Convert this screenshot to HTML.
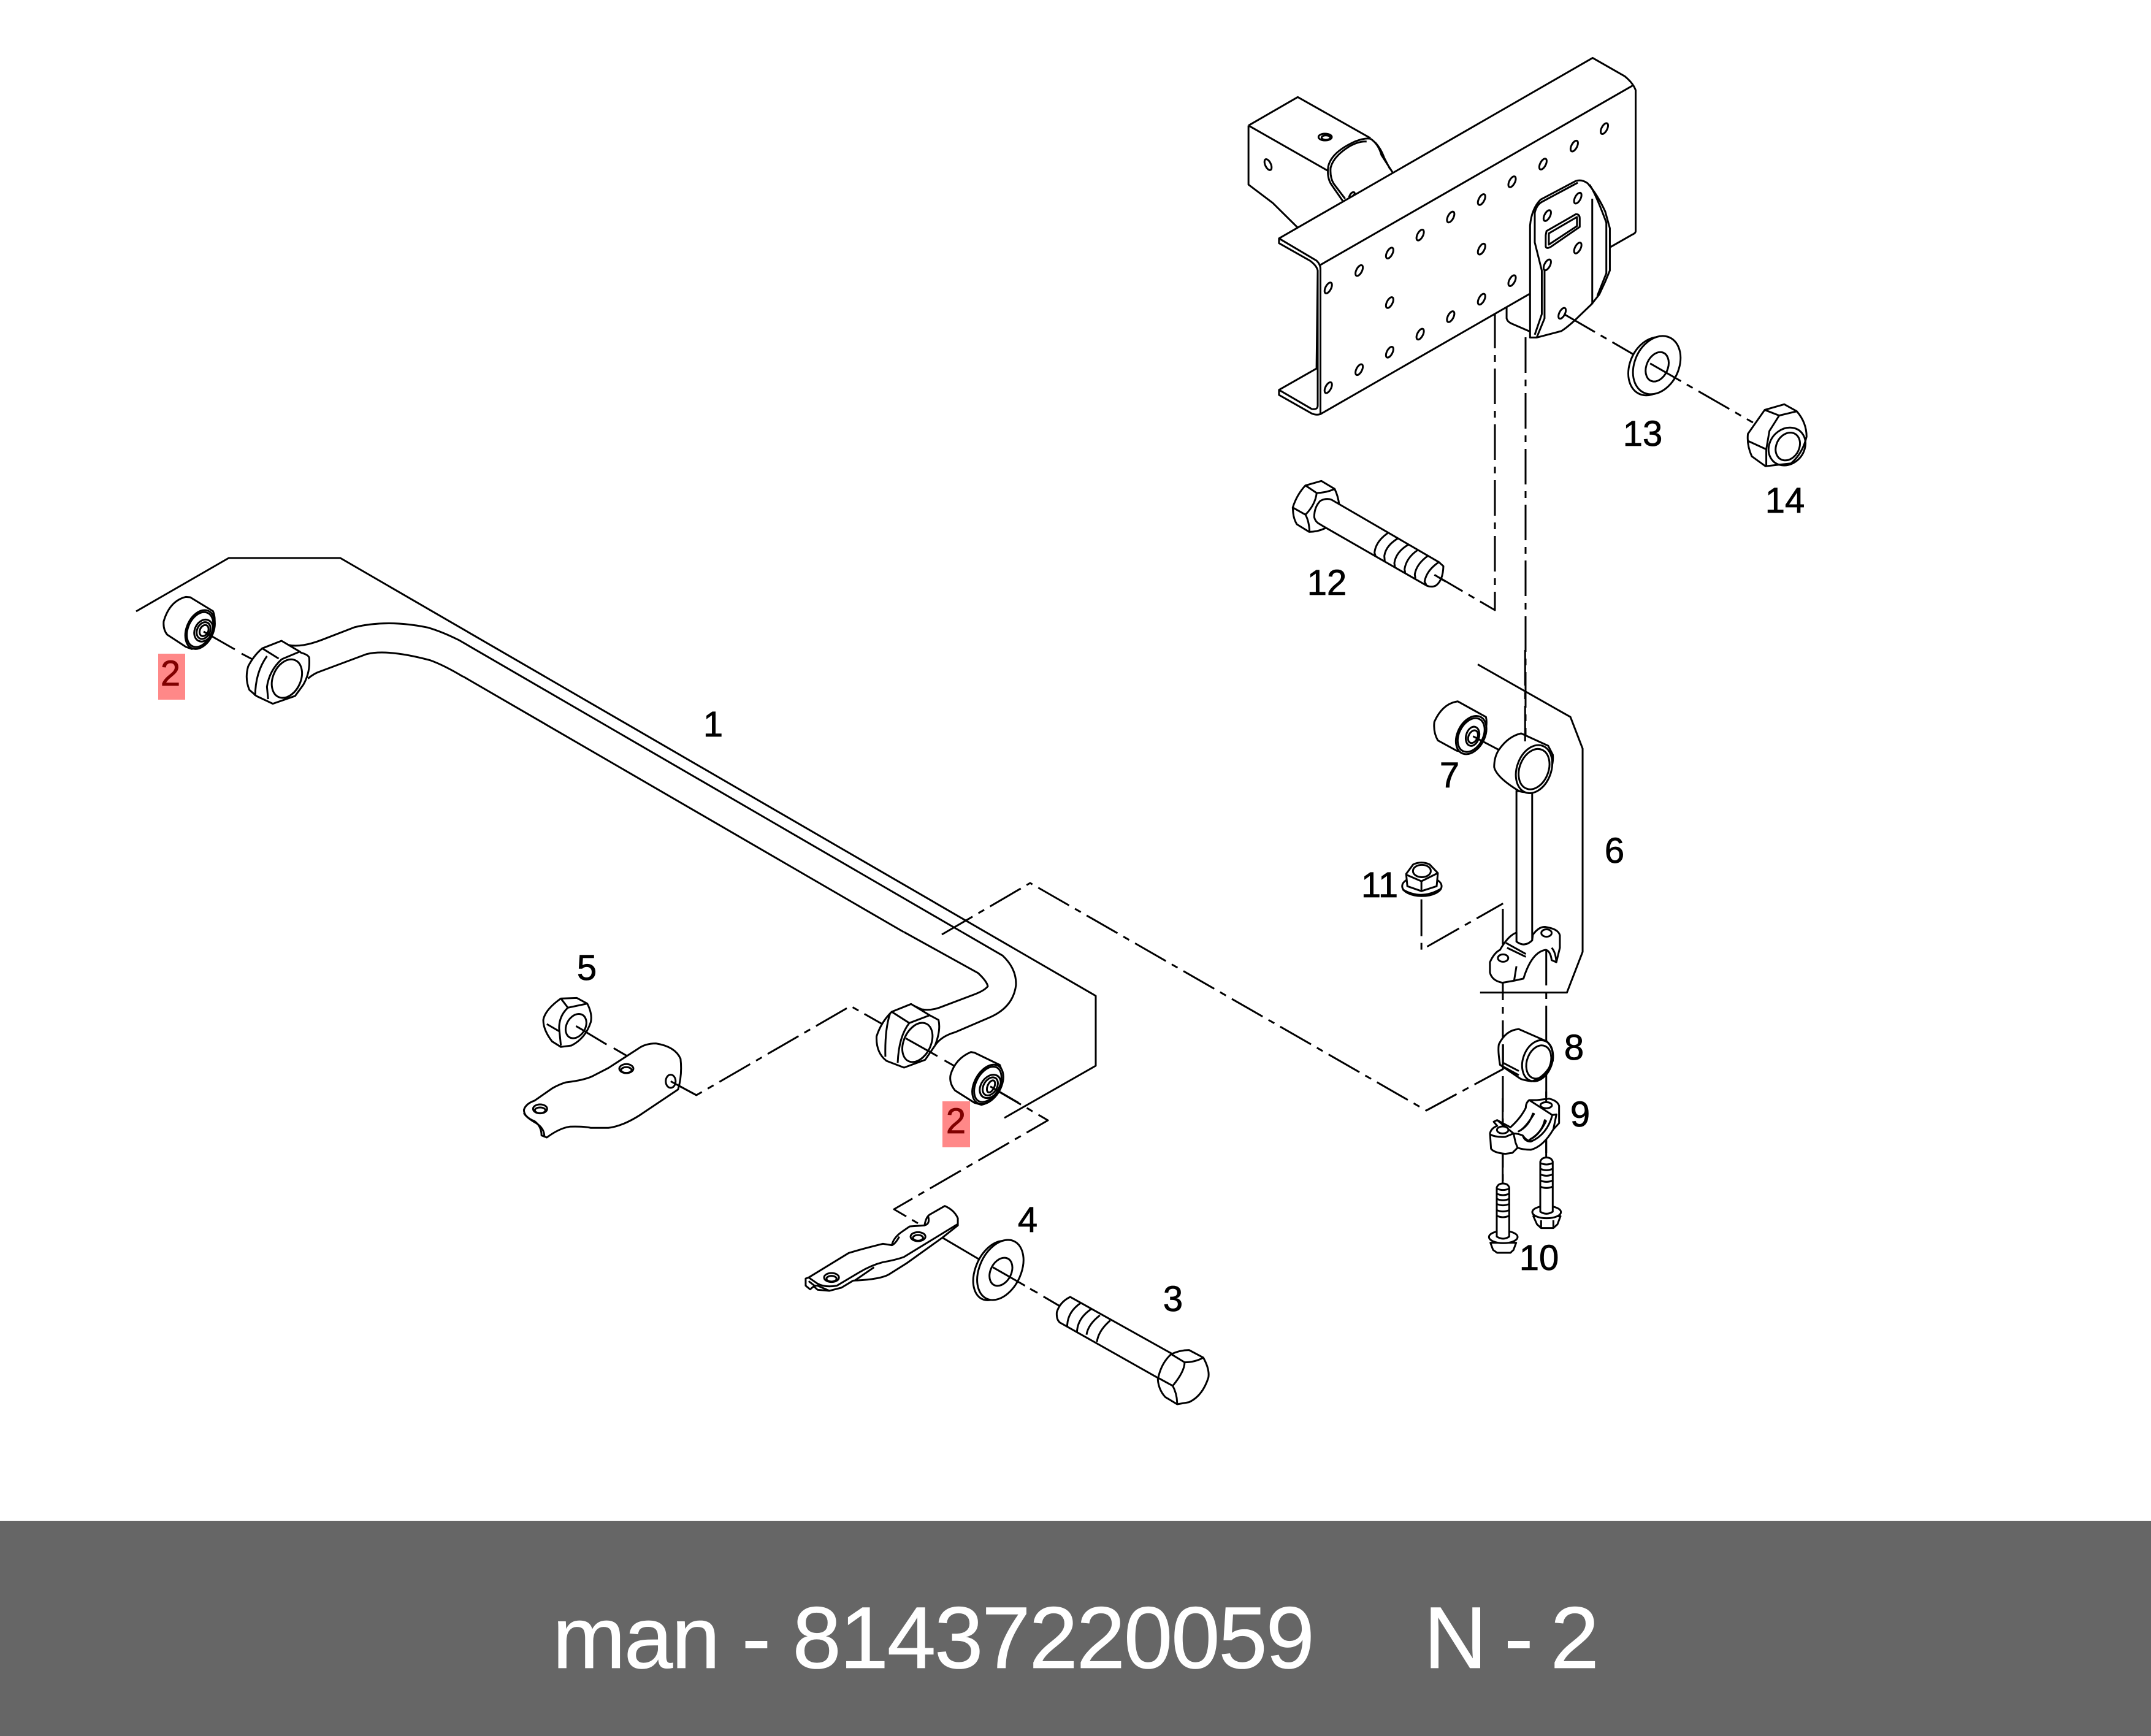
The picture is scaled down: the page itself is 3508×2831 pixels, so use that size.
<!DOCTYPE html>
<html><head><meta charset="utf-8"><style>
html,body{margin:0;padding:0;background:#fff}
svg{display:block}
path,ellipse,line{fill:none;stroke:#000;stroke-width:3;vector-effect:non-scaling-stroke;stroke-linejoin:round}
.f{fill:#fff}
.d{stroke-dasharray:58 11 11 11}
text{font-family:"Liberation Sans",sans-serif}
.n{font-size:58px;fill:#000;text-anchor:middle;stroke:#000;stroke-width:.8}
.r{font-size:58px;fill:#800000;text-anchor:middle;stroke:#800000;stroke-width:.8}
.t{font-size:143px;fill:#fff;stroke:#fff;stroke-width:.8}
</style></head><body>
<svg width="3508" height="2831" viewBox="0 0 3508 2831" xmlns="http://www.w3.org/2000/svg">
<defs>
<ellipse id="h" class="f" rx="7.5" ry="20" transform="rotate(18)"/>
</defs>
<rect width="3508" height="2831" fill="#fff"/>
<rect y="2480" width="3508" height="351" fill="#666"/>

<!-- chain lines -->
<path class="d" d="M2438,510 L2438,995 L2339,937"/>
<path class="d" d="M2488,550 L2488,1212"/>
<path class="d" d="M1536,1524 L1680,1440 L2326,1811 L2452,1743"/>
<path class="d" d="M1615,1772 L1709,1827 L1458,1972 L1504,1999"/>

<!-- reference brackets -->
<path d="M222,997 L373,910 L555,910 L1787,1624 L1787,1738 L1638,1823"/>
<path d="M1474,1520 L755,1103"/>
<path d="M747,1043 L1569,1520"/>

<!-- Top frame group -->
<g transform="translate(1980,60) scale(.6378,.4592)">
<path d="M88,315 L214,214 L400,360 M88,315 L290,475 M88,315 L88,525 L150,590 L214,678"/>
<path d="M400,362 Q385,358 360,372 Q300,410 292,460 Q288,500 300,525 L330,585"/>
<path d="M390,372 Q370,370 345,390 Q305,425 298,465 Q296,500 306,522 L335,575"/>
<path d="M400,362 Q420,380 428,420 L458,485 M412,375 Q428,400 435,430 L450,470"/>
<ellipse cx="284" cy="356" rx="17" ry="12"/><ellipse cx="286" cy="358" rx="11" ry="8"/>
<ellipse cx="138" cy="454" rx="7.5" ry="20" transform="rotate(-16 138 454)"/>
<path d="M345,570 Q350,550 358,552 Q362,556 355,565"/>
<path class="f" d="M166,716 L968,75 L1050,140 Q1072,165 1078,190 L1078,690 Q1078,697 1070,702 L1012,748 L808,912 L272,1340 Q262,1345 250,1338 L166,1272 L166,1254 L262,1178 L265,830 Q262,812 245,795 L166,733 Z"/>
<path d="M272,810 L1072,172"/>
<path d="M166,716 L262,795 Q272,808 272,825 L272,1340"/>
<path d="M265,830 L265,1310 Q265,1325 250,1322 L166,1254"/>
<path d="M748,960 L748,1000 Q750,1012 760,1018 L808,1047"/>
<g>
<use href="#h" x="998" y="326"/><use href="#h" x="921" y="388"/><use href="#h" x="841" y="452"/><use href="#h" x="762" y="515"/><use href="#h" x="684" y="578"/><use href="#h" x="605" y="640"/><use href="#h" x="527" y="704"/><use href="#h" x="449" y="768"/><use href="#h" x="371" y="830"/><use href="#h" x="292" y="892"/><use href="#h" x="449" y="944"/><use href="#h" x="684" y="754"/><use href="#h" x="762" y="866"/><use href="#h" x="684" y="932"/><use href="#h" x="605" y="994"/><use href="#h" x="527" y="1056"/><use href="#h" x="449" y="1120"/><use href="#h" x="371" y="1182"/><use href="#h" x="292" y="1246"/>
</g>
<path class="f" d="M808,1068 L808,670 Q812,610 835,578 L925,512 Q940,505 955,520 Q980,560 1000,620 L1012,680 L1012,830 L1000,870 L985,915 L965,950 L920,1010 Q900,1035 888,1045 L825,1068 Z"/>
<path d="M820,625 Q825,595 840,585 L930,518 M820,620 L820,730 L838,830 L838,985 L820,1058 M845,830 L845,1000 L825,1068 M967,575 L967,950 M960,525 Q975,555 1003,660 L1003,840 L980,920"/>
<path d="M850,690 L925,630 Q935,630 935,645 L935,675 L862,745 Q850,755 848,745 L848,705 Z M856,698 L928,640 L928,672 L856,738 Z"/>
<use href="#h" x="930" y="573"/><use href="#h" x="852" y="635"/><use href="#h" x="930" y="750"/><use href="#h" x="852" y="810"/><use href="#h" x="890" y="982"/>
<!-- washer 13 -->
<path class="d" d="M895,985 L1075,1130"/>
<ellipse class="f" cx="1120" cy="1170" rx="58" ry="105" transform="rotate(12 1120 1170)"/>
<ellipse class="f" cx="1132" cy="1166" rx="58" ry="105" transform="rotate(12 1132 1166)"/>
<ellipse cx="1133" cy="1172" rx="28" ry="53" transform="rotate(12 1133 1172)"/>
<path class="d" d="M1115,1160 L1378,1370"/>
<!-- nut 14 -->
<path class="f" d="M1365,1410 L1408,1325 L1458,1305 L1490,1330 Q1515,1370 1515,1420 Q1505,1480 1475,1515 L1410,1525 L1375,1490 Q1362,1450 1365,1410 Z"/>
<path d="M1408,1325 L1445,1345 L1490,1330 M1445,1345 L1420,1400 L1412,1465 L1412,1525 M1365,1435 L1412,1465"/>
<ellipse cx="1465" cy="1455" rx="46" ry="68" transform="rotate(12 1465 1455)"/>
<ellipse cx="1467" cy="1455" rx="30" ry="50" transform="rotate(12 1467 1455)"/>
</g>

<!-- Bolt 12 -->
<g transform="translate(2060,760) scale(.3333)">
<path class="f" d="M145,203 Q165,140 207,95 L285,73 L350,112 Q368,150 372,190 L308,302 Q270,322 225,322 L165,285 Q150,260 147,230 Z"/>
<path d="M207,95 L262,132 Q310,130 350,112 M262,132 Q255,190 207,238 L145,203 M207,238 Q225,270 227,322"/>
<path class="f" d="M335,165 Q310,155 280,170 Q250,200 250,250 Q255,270 270,280 L300,298 L800,585 Q825,595 845,585 Q880,560 882,490 L860,470 Z"/>
<path d="M610,328 Q550,370 545,425 L550,440 M658,355 Q600,390 593,440 L595,465 M710,385 Q650,420 642,475 L645,495 M755,412 Q700,450 692,505 L695,522 M805,440 Q750,480 742,530 L745,550 M860,470 Q800,510 790,565 L800,585"/>
<path d="M838,532 L893,565"/>
</g>

<!-- Link 6 group -->
<g transform="translate(2100,1050) scale(.3827,.6698)">
<path d="M810,50 L1205,178 L1257,255 L1257,750 L1190,849 L820,849"/>
<path d="M570,622 L570,745 L918,632" stroke-dasharray="60 11 11 11"/>
<path class="d" d="M917,645 L917,1325"/>
<path class="d" d="M1102,745 L1102,1262"/>
<path class="f" d="M640,235 Q620,215 625,190 Q660,145 725,140 L845,178 Q852,195 840,215 Q810,250 760,265 L720,260 Z"/>
<ellipse class="f" cx="782" cy="222" rx="68" ry="42" transform="rotate(-22 782 222)"/>
<ellipse cx="782" cy="222" rx="60" ry="37" transform="rotate(-22 782 222)"/>
<ellipse cx="788" cy="225" rx="30" ry="22" transform="rotate(-22 788 225)"/>
<ellipse cx="790" cy="226" rx="22" ry="14" transform="rotate(-22 790 226)"/>
<path d="M790,225 L900,258"/>
<path class="f" d="M975,358 L975,725 Q1010,740 1042,722 L1042,362 Z"/>
<path class="f" d="M900,258 Q880,275 880,300 Q890,325 985,358 Q1040,370 1100,330 Q1135,300 1130,270 L1110,248 L995,218 Q940,225 900,258 Z"/>
<ellipse class="f" cx="1050" cy="305" rx="80" ry="55" transform="rotate(-20 1050 305)"/>
<ellipse cx="1050" cy="305" rx="68" ry="46" transform="rotate(-20 1050 305)"/>
<path d="M1012,15 L1012,240" class="d"/>
<!-- upper clamp -->
<path class="f" d="M862,775 Q880,752 905,745 Q940,710 975,703 L975,725 Q1010,740 1042,722 L1045,708 Q1075,685 1105,690 Q1155,695 1160,710 L1160,740 L1145,775 L1125,770 Q1120,748 1100,745 Q1040,750 1005,815 L965,820 L915,825 Q870,820 862,800 Z"/>
<path d="M930,728 L1015,755 M935,740 L1015,762 M975,785 L965,820 M1145,775 Q1142,750 1125,740"/>
<ellipse class="f" cx="918" cy="765" rx="22" ry="9"/><ellipse class="f" cx="1103" cy="704" rx="22" ry="9"/>
<!-- nut 11 -->
<ellipse class="f" cx="572" cy="590" rx="84" ry="24"/>
<path d="M490,598 Q570,625 654,596"/>
<path class="f" d="M505,560 L535,537 Q570,528 605,537 L640,558 L635,590 L570,602 L510,590 Z"/>
<path d="M505,562 L570,578 L640,558 M570,578 L570,602"/>
<ellipse cx="572" cy="553" rx="38" ry="15"/>
<!-- bush 8 -->
<path class="f" d="M905,1025 Q895,990 900,975 Q930,940 985,938 L1105,968 Q1135,985 1130,1015 Q1100,1055 1040,1065 Q1000,1062 990,1058 Z"/>
<path d="M918,975 L918,1020 L985,1040 M905,1025 L985,1050"/>
<ellipse cx="1065" cy="1015" rx="68" ry="47" transform="rotate(-20 1065 1015)"/>
<ellipse cx="1070" cy="1018" rx="55" ry="38" transform="rotate(-20 1070 1018)"/>
<path d="M917,975 L917,1030"/>
</g>

<!-- Lower clamp 9 and bolts 10 -->
<g transform="translate(2400,1780) scale(.3333)">
<path class="f" d="M90,205 L95,280 Q110,300 165,305 L200,300 L225,275 Q250,285 290,285 Q350,270 400,185 L428,155 L428,70 Q420,45 380,35 L320,42 L282,42 Q265,55 265,80 Q240,130 190,175 L125,140 L108,148 L125,168 Q95,180 90,205 Z"/>
<path d="M282,42 L395,115 L415,112 L400,185 M90,210 Q120,225 165,222 L205,205 M205,205 L215,250 L225,275 M205,205 Q225,205 250,215 Q260,245 290,245 Q370,210 395,115 M125,140 L205,205 M250,215 Q275,250 300,240"/>
<path d="M300,108 Q280,170 230,195 Q262,180 305,110 Z M358,140 Q345,200 285,235 Q330,215 364,145 Z"/>
<ellipse class="f" cx="152" cy="188" rx="28" ry="17"/>
<ellipse class="f" cx="365" cy="67" rx="28" ry="15"/>
<path d="M152,33 L152,175 M365,0 L365,55 M152,305 L152,450 M365,240 L365,325"/>
<!-- left bolt -->
<path class="f" d="M92,740 L105,775 L125,789 L190,789 L205,775 L218,740 Z"/>
<ellipse class="f" cx="155" cy="712" rx="70" ry="30"/>
<path class="f" d="M123,470 Q130,450 153,450 Q178,450 184,470 L184,710 Q155,730 123,710 Z"/>
<path d="M123,475 Q153,489 184,475 M123,500 Q153,514 184,500 M123,525 Q153,539 184,525 M123,550 Q153,564 184,550 M123,580 Q153,594 184,580 M123,608 Q153,622 184,608"/>
<!-- right bolt -->
<path class="f" d="M302,610 L320,650 L340,668 L400,668 L420,650 L435,610 Z"/>
<ellipse class="f" cx="367" cy="590" rx="70" ry="30"/>
<path d="M340,630 L340,668 M400,630 L400,668"/>
<path class="f" d="M336,343 Q343,323 366,323 Q391,323 397,343 L397,588 Q366,608 336,588 Z"/>
<path d="M336,350 Q366,364 397,350 M336,378 Q366,392 397,378 M336,405 Q366,419 397,405 M336,435 Q366,449 397,435 M336,465 Q366,479 397,465"/>
</g>

<!-- left bar end, bush -->
<g transform="translate(200,880) scale(.3827,.3333)">
<path class="f" d="M190,465 Q172,440 175,400 Q200,300 270,280 L288,282 L385,350 Q400,390 385,450 Q350,525 295,535 L270,525 Z"/>
<ellipse class="f" cx="330" cy="440" rx="58" ry="98" transform="rotate(18 330 440)"/>
<ellipse cx="330" cy="440" rx="52" ry="88" transform="rotate(18 330 440)"/>
<ellipse cx="345" cy="445" rx="38" ry="55" transform="rotate(18 345 445)"/>
<ellipse cx="345" cy="445" rx="28" ry="42" transform="rotate(18 345 445)"/>
<ellipse cx="347" cy="445" rx="18" ry="28" transform="rotate(18 347 445)"/>
<path d="M345,450 L478,537 M507,558 L552,585"/>
<path d="M705,515 Q760,530 850,490 L990,428 Q1130,390 1300,430 Q1360,450 1430,490"/>
<path d="M790,680 Q810,660 830,650 L1040,560 Q1130,535 1310,590 Q1370,615 1450,670"/>
<path class="f" d="M595,532 L677,495 L755,548 L760,553 Q795,565 795,580 Q800,650 770,710 L735,765 L640,803 L570,765 L540,735 Q520,680 535,620 Q560,565 595,532 Z"/>
<path d="M595,532 L665,582 M678,585 L755,548 M678,585 Q625,640 615,720 L620,780 M615,570 Q565,650 565,765"/>
<ellipse cx="700" cy="680" rx="60" ry="97" transform="rotate(18 700 680)"/>
</g>

<!-- Right bar end, plate 5, nut 5 -->
<g transform="translate(820,1520) scale(.574,.3333)">
<path d="M1305,0 L1420,115 Q1460,180 1458,260 Q1450,370 1380,420 L1285,490 Q1245,510 1228,555"/>
<path d="M1140,0 L1350,200 Q1375,240 1378,265 Q1370,285 1340,305 L1240,370 Q1215,385 1190,378 L1165,358"/>
<path d="M477,730 L550,798 L988,362 L1078,450" class="d"/>
<path class="f" d="M1105,390 L1160,352 L1213,407 L1238,430 Q1245,480 1228,555 L1200,625 L1140,663 L1090,630 Q1060,590 1062,510 Q1075,440 1105,390 Z"/>
<path d="M1105,390 L1155,445 L1213,407 M1155,445 Q1125,510 1122,640 M1100,400 Q1085,480 1087,610"/>
<ellipse cx="1178" cy="540" rx="40" ry="97" transform="rotate(10 1178 540)"/>
<path d="M1145,520 L1235,607 M1255,628 L1283,655"/>
<path class="f" d="M1285,775 Q1268,740 1272,700 Q1285,620 1330,587 L1340,590 L1412,650 Q1425,700 1412,770 Q1390,835 1360,845 L1340,835 Z"/>
<ellipse class="f" cx="1378" cy="745" rx="40" ry="98" transform="rotate(12 1378 745)"/>
<ellipse cx="1378" cy="745" rx="35" ry="88" transform="rotate(12 1378 745)"/>
<ellipse cx="1385" cy="755" rx="28" ry="58" transform="rotate(12 1385 755)"/>
<ellipse cx="1385" cy="755" rx="20" ry="45" transform="rotate(12 1385 755)"/>
<ellipse cx="1387" cy="755" rx="10" ry="30" transform="rotate(12 1387 755)"/>
<path d="M1385,755 L1465,835"/>
<!-- plate -->
<path class="f" d="M60,870 Q65,840 90,825 L140,765 Q160,745 180,735 Q230,725 255,705 L300,665 L385,570 Q405,545 435,545 Q490,560 505,620 Q510,700 498,770 L390,895 Q340,950 300,958 L250,958 Q230,950 190,952 Q160,960 125,1005 L110,995 Q110,950 90,925 Q60,905 60,870 Z"/>
<path d="M60,885 Q65,905 95,935 Q118,960 118,1000"/>
<ellipse class="f" cx="351" cy="668" rx="20" ry="22"/><ellipse cx="351" cy="675" rx="15" ry="14"/>
<ellipse class="f" cx="477" cy="730" rx="14" ry="32"/>
<ellipse class="f" cx="106" cy="865" rx="20" ry="22"/><ellipse cx="106" cy="872" rx="15" ry="14"/>
<path d="M477,730 L550,798"/>
<!-- nut 5 -->
<path d="M208,460 L295,550 M315,568 L352,605"/>
<path class="f" d="M115,430 Q120,380 165,325 L210,322 L240,350 Q255,400 250,440 Q235,520 195,555 L165,562 L140,535 Q115,480 115,430 Z"/>
<path d="M165,325 L185,370 L240,350 M185,370 Q160,410 160,470 L165,555 M125,450 L160,485"/>
<ellipse cx="208" cy="460" rx="28" ry="60" transform="rotate(10 208 460)"/>
<path d="M208,460 L240,492"/>
</g>

<!-- Plate 4, washer, bolt 3 -->
<g transform="translate(1280,1900) scale(.4847,.3333)">
<path class="f" d="M70,555 L80,550 L215,430 Q260,410 330,385 L360,392 Q365,355 395,325 L420,300 L470,295 Q475,250 490,240 L538,200 Q570,220 582,260 L582,295 L530,355 L410,480 L350,535 Q320,560 230,565 L190,600 L150,615 L110,590 L100,590 L85,608 L70,590 Z"/>
<path d="M80,550 L110,580 Q135,600 175,590 L250,525 Q290,490 330,475 Q370,465 400,450 L580,290 M80,568 L100,590 M360,392 Q372,385 385,350 M468,295 Q490,290 482,250 M95,590 L110,610 L150,615 M235,565 L300,500"/>
<ellipse class="f" cx="157" cy="550" rx="25" ry="22"/><ellipse cx="157" cy="556" rx="17" ry="14"/>
<ellipse class="f" cx="448" cy="350" rx="25" ry="22"/><ellipse cx="448" cy="356" rx="17" ry="14"/>
<path d="M530,355 L655,462"/>
<ellipse class="f" cx="708" cy="516" rx="68" ry="148" transform="rotate(13 708 516)"/>
<ellipse class="f" cx="725" cy="513" rx="72" ry="150" transform="rotate(13 725 513)"/>
<ellipse cx="727" cy="522" rx="36" ry="70" transform="rotate(13 727 522)"/>
<path d="M700,500 L808,590 M825,605 L850,625 M870,643 L925,690"/>
<path class="f" d="M960,645 L1305,925 L1260,1045 L925,770 Q913,755 915,720 Q925,670 960,645 Z"/>
<path d="M995,675 Q950,720 950,790 M1030,705 Q985,750 983,815 M1060,735 Q1020,780 1015,830 M1095,760 Q1055,810 1050,865"/>
<path class="f" d="M1300,925 Q1330,905 1360,905 L1408,942 Q1430,1000 1425,1040 Q1405,1130 1360,1160 L1320,1170 L1280,1135 Q1258,1100 1255,1050 Q1265,970 1300,925 Z"/>
<path d="M1300,925 L1345,965 Q1380,965 1408,942 M1345,965 Q1345,1010 1305,1080 L1255,1040 M1305,1080 Q1320,1120 1320,1170"/>
</g>

<!-- labels -->
<rect x="258" y="1066" width="44" height="75" fill="#ff8888"/>
<rect x="1537" y="1796" width="45" height="75" fill="#ff8888"/>
<text class="r" x="278" y="1118">2</text>
<text class="r" x="1559" y="1848">2</text>
<text class="n" x="1163" y="1201">1</text>
<text class="n" x="1913" y="2138">3</text>
<text class="n" x="1676" y="2009">4</text>
<text class="n" x="957" y="1598">5</text>
<text class="n" x="2633" y="1407">6</text>
<text class="n" x="2364" y="1284">7</text>
<text class="n" x="2567" y="1728">8</text>
<text class="n" x="2577" y="1837">9</text>
<text class="n" x="2510" y="2071">10</text>
<text class="n" x="2250" y="1463">11</text>
<text class="n" x="2164" y="970">12</text>
<text class="n" x="2679" y="727">13</text>
<text class="n" x="2911" y="836">14</text>

<!-- footer -->
<text class="t" x="901" y="2720" textLength="1243" lengthAdjust="spacing">man - 81437220059</text>
<text class="t" x="2322" y="2720" textLength="286" lengthAdjust="spacing">N - 2</text>
</svg>
</body></html>
